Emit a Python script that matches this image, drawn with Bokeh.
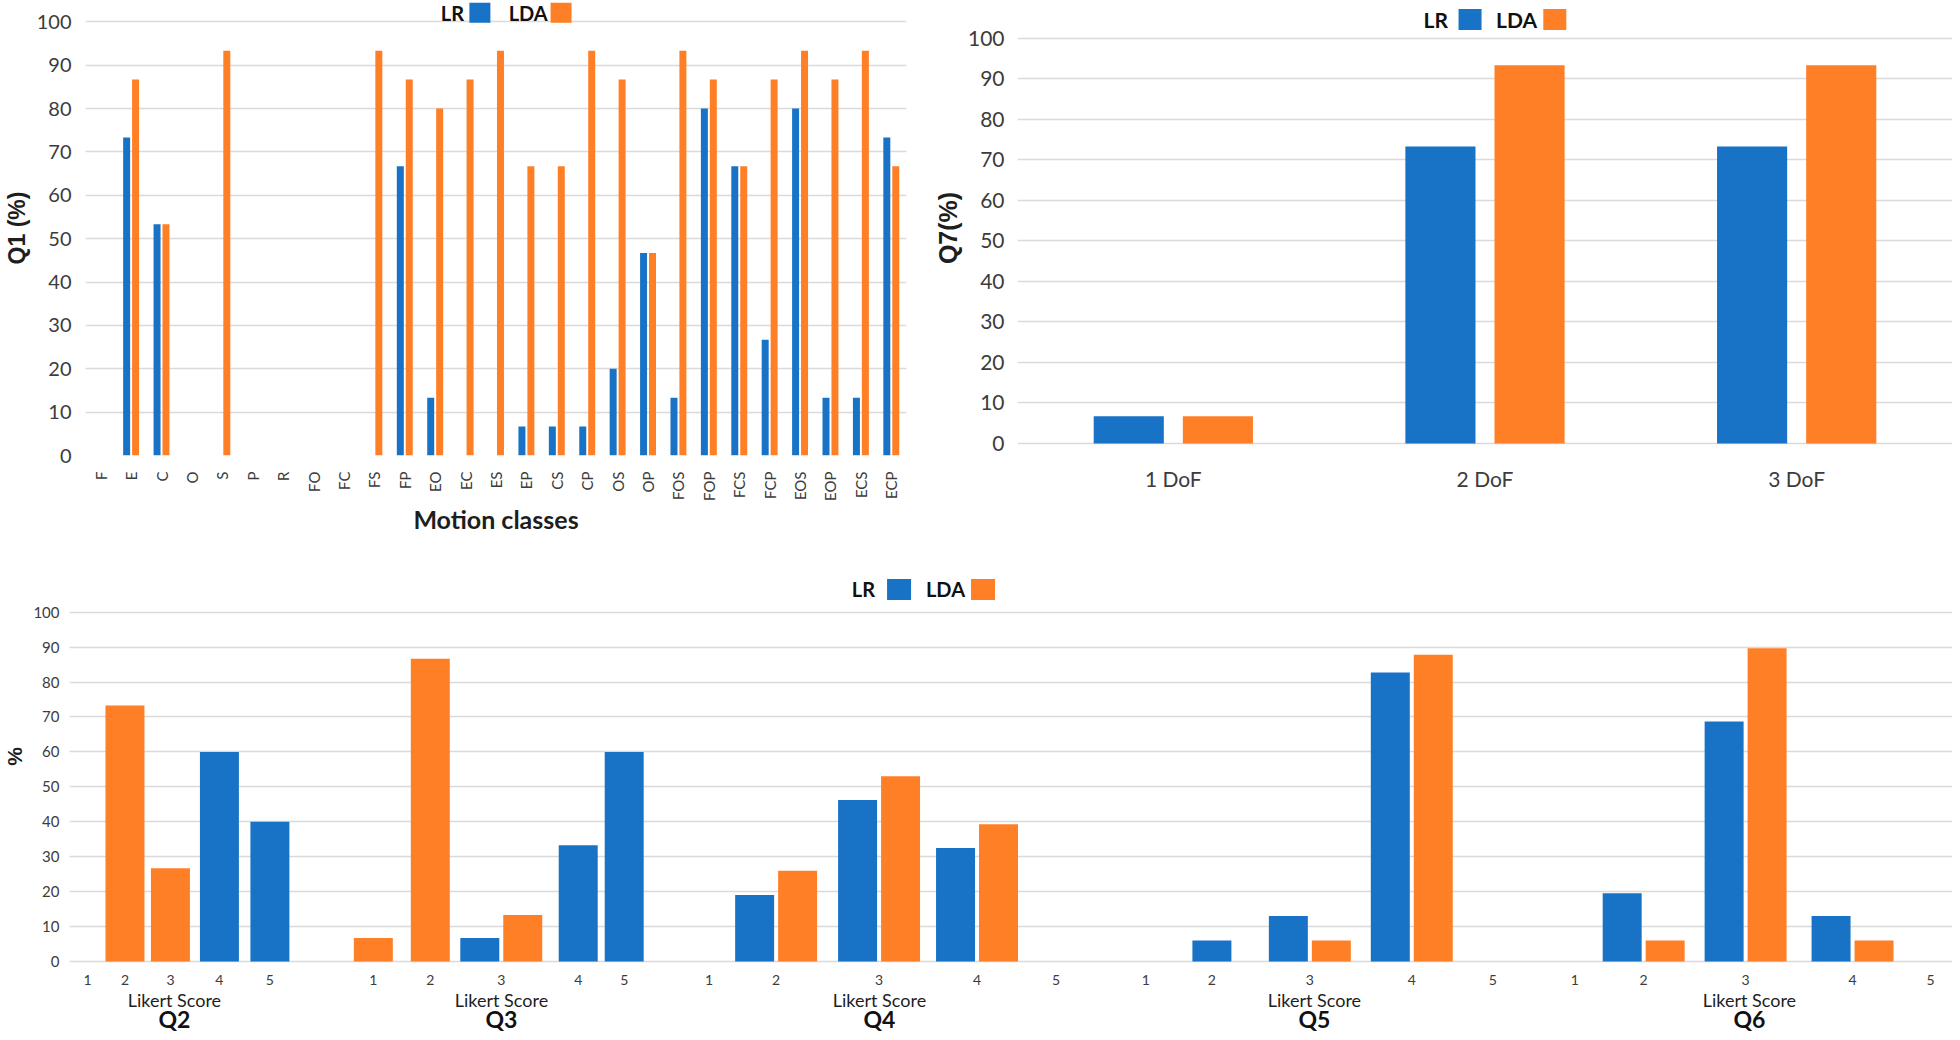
import math
from bokeh.plotting import figure
from bokeh.models import Range1d, FixedTicker
from bokeh.layouts import column, row
from bokeh.embed import file_html
from bokeh.resources import INLINE
from bokeh.core.properties import value

# ---------------- data ----------------
motion_classes = ["F", "E", "C", "O", "S", "P", "R", "FO", "FC", "FS", "FP", "EO", "EC", "ES",
                  "EP", "CS", "CP", "OS", "OP", "FOS", "FOP", "FCS", "FCP", "EOS", "EOP", "ECS", "ECP"]
q1_lr = [0, 73.3, 53.3, 0, 0, 0, 0, 0, 0, 0, 66.7, 13.3, 0, 0, 6.7, 6.7, 6.7, 20, 46.7,
         13.3, 80, 66.7, 26.7, 80, 13.3, 13.3, 73.3]
q1_lda = [0, 86.7, 53.3, 0, 93.3, 0, 0, 0, 0, 93.3, 86.7, 80, 86.7, 93.3, 66.7, 66.7, 93.3,
          86.7, 46.7, 93.3, 86.7, 66.7, 86.7, 93.3, 86.7, 93.3, 66.7]

dof_classes = ["1 DoF", "2 DoF", "3 DoF"]
q7_lr = [6.7, 73.3, 73.3]
q7_lda = [6.7, 93.3, 93.3]

likert_scores = ["1", "2", "3", "4", "5"]
questions = ["Q2", "Q3", "Q4", "Q5", "Q6"]
q2_lr = [0, 0, 0, 60, 40]
q2_lda = [0, 73.3, 26.7, 0, 0]
q3_lr = [0, 0, 6.7, 33.3, 60]
q3_lda = [6.7, 86.7, 13.3, 0, 0]
q4_lr = [0, 19, 46.2, 32.5, 0]
q4_lda = [0, 26, 53, 39.3, 0]
q5_lr = [0, 6, 13, 82.7, 0]
q5_lda = [0, 0, 6, 87.8, 0]
q6_lr = [0, 19.5, 68.7, 13, 0]
q6_lda = [0, 6, 89.7, 6, 0]

series_names = ["LR", "LDA"]
y_ticks = list(range(0, 101, 10))

# ---------------- style / layout ----------------
BLUE = "#1873C6"
ORANGE = "#FF7F27"
GRID = "#DADADA"
TICK = "#3C3C3C"
CAL = "Lato"
ARIAL = "Liberation Sans"

# slot centres (x units = px) of the Likert categories of each question panel
panel_slots = {
    "Q2": [86, 123.5, 169, 218, 268.5],
    "Q3": [372, 429, 500, 577, 623],
    "Q4": [708, 775, 878, 976, 1055],
    "Q5": [1145, 1211, 1309, 1411, 1492],
    "Q6": [1574, 1643, 1745, 1852, 1930],
}


def base_fig(width, height, xr, yr, left, right, top, bottom):
    p = figure(width=width, height=height, x_range=xr, y_range=yr,
               output_backend="svg", toolbar_location=None,
               min_border_left=left, min_border_right=right,
               min_border_top=top, min_border_bottom=bottom)
    p.outline_line_color = None
    p.background_fill_color = "white"
    p.border_fill_color = "white"
    p.xgrid.grid_line_color = None
    p.ygrid.grid_line_color = GRID
    p.ygrid.grid_line_width = 1.6
    for ax in (p.xaxis, p.yaxis):
        ax.axis_line_color = None
        ax.major_tick_line_color = None
        ax.minor_tick_line_color = None
        ax.major_tick_out = 0
        ax.major_tick_in = 0
        ax.minor_tick_out = 0
        ax.minor_tick_in = 0
    p.yaxis.ticker = FixedTicker(ticks=y_ticks)
    p.yaxis.major_label_text_color = TICK
    p.yaxis.major_label_text_font = CAL
    return p


def legend(p, lr_right, lr_sq, lda_right, lda_sq, y, fs, sqw, sqh):
    p.text(x=[lr_right, lda_right], y=[y, y], text=series_names,
           text_font=value(CAL), text_font_style="bold", text_font_size=fs,
           text_align="right", text_baseline="middle", text_color="#111111")
    p.rect(x=[lr_sq, lda_sq], y=[y, y], width=sqw, height=sqh,
           width_units="screen", height_units="screen",
           fill_color=[BLUE, ORANGE], line_color=None)


def y_label(p, text, size, standoff):
    p.yaxis.axis_label = text
    p.yaxis.axis_label_text_font = ARIAL
    p.yaxis.axis_label_text_font_style = "bold"
    p.yaxis.axis_label_text_font_size = size
    p.yaxis.axis_label_text_color = "#1E1E1E"
    p.yaxis.axis_label_standoff = standoff


TOP_H = 542
TOP_BOTTOM = 87

# ---------------- Q1 ----------------
n1 = len(motion_classes)
p1 = base_fig(930, TOP_H, Range1d(-0.5, n1 - 0.5), Range1d(0, 104.91), 82, 24, 0, TOP_BOTTOM)
bw1, off1 = 0.23, 0.147
x_lr = [i - off1 for i, v in enumerate(q1_lr) if v > 0]
t_lr = [v for v in q1_lr if v > 0]
x_lda = [i + off1 for i, v in enumerate(q1_lda) if v > 0]
t_lda = [v for v in q1_lda if v > 0]
p1.vbar(x=x_lr, top=t_lr, width=bw1, fill_color=BLUE, line_color=None)
p1.vbar(x=x_lda, top=t_lda, width=bw1, fill_color=ORANGE, line_color=None)
p1.yaxis.major_label_text_font_size = "20px"
p1.yaxis.major_label_standoff = 14
y_label(p1, "Q1 (%)", "23px", 4)
p1.yaxis.axis_label_text_align = "left"
p1.xaxis.ticker = FixedTicker(ticks=list(range(n1)))
p1.xaxis.major_label_overrides = {i: c for i, c in enumerate(motion_classes)}
p1.xaxis.major_label_orientation = math.pi / 2
p1.xaxis.major_label_text_font = CAL
p1.xaxis.major_label_text_font_size = "15px"
p1.xaxis.major_label_text_color = TICK
p1.xaxis.major_label_standoff = 16
p1.xaxis.axis_label = "Motion classes"
p1.xaxis.axis_label_text_font = CAL
p1.xaxis.axis_label_text_font_style = "bold"
p1.xaxis.axis_label_text_font_size = "25px"
p1.xaxis.axis_label_text_color = "#1E1E1E"
p1.xaxis.axis_label_standoff = 0
legend(p1, 11.95, 12.47, 14.70, 15.14, 102.1, "20px", 21, 20)

# ---------------- Q7 ----------------
n7 = len(dof_classes)
p2 = base_fig(1022, TOP_H, Range1d(-0.5, n7 - 0.5), Range1d(-2.96, 109.3), 86, 0, 0, TOP_BOTTOM)
bw2, off2 = 0.225, 0.143
p2.vbar(x=[i - off2 for i in range(n7)], top=q7_lr, width=bw2, fill_color=BLUE, line_color=None)
p2.vbar(x=[i + off2 for i in range(n7)], top=q7_lda, width=bw2, fill_color=ORANGE, line_color=None)
p2.yaxis.major_label_text_font_size = "21px"
p2.yaxis.major_label_standoff = 13
y_label(p2, "Q7(%)", "25px", 3)
p2.xaxis.ticker = FixedTicker(ticks=list(range(n7)))
p2.xaxis.major_label_overrides = {i: c for i, c in enumerate(dof_classes)}
p2.xaxis.major_label_text_font = CAL
p2.xaxis.major_label_text_font_size = "21px"
p2.xaxis.major_label_text_color = TICK
p2.xaxis.major_label_standoff = 10
legend(p2, 0.881, 0.952, 1.167, 1.224, 104.6, "21px", 23, 21)

# ---------------- Q2..Q6 bars ----------------
xr3 = Range1d(68, 1952)
p3 = base_fig(1952, 428, xr3, Range1d(-2.58, 119.95), 68, 0, 0, 0)
p3.xaxis.visible = False
p3.yaxis.major_label_text_font_size = "15px"
p3.yaxis.major_label_standoff = 10
y_label(p3, "%", "21px", 4)
bw3, off3 = 39, 21.5
panel_data = {"Q2": (q2_lr, q2_lda), "Q3": (q3_lr, q3_lda), "Q4": (q4_lr, q4_lda),
              "Q5": (q5_lr, q5_lda), "Q6": (q6_lr, q6_lda)}
for q in questions:
    lr, lda = panel_data[q]
    slots = panel_slots[q]
    xb, tb, xo, to = [], [], [], []
    for s, a, b in zip(slots, lr, lda):
        both = a > 0 and b > 0
        if a > 0:
            xb.append(s - off3 if both else s)
            tb.append(a)
        if b > 0:
            xo.append(s + off3 if both else s)
            to.append(b)
    p3.vbar(x=xb, top=tb, width=bw3, fill_color=BLUE, line_color=None)
    p3.vbar(x=xo, top=to, width=bw3, fill_color=ORANGE, line_color=None)
legend(p3, 874, 898, 964, 982, 106.5, "20px", 24, 21)

# ---------------- Q2..Q6 category labels ----------------
p4 = figure(width=1952, height=62, x_range=xr3, y_range=Range1d(0, 62),
            output_backend="svg", toolbar_location=None,
            min_border_left=68, min_border_right=0, min_border_top=0, min_border_bottom=0)
p4.outline_line_color = None
p4.axis.visible = False
p4.grid.visible = False
for q in questions:
    slots = panel_slots[q]
    mid = sum(slots) / len(slots)
    p4.text(x=slots, y=[53] * len(slots), text=likert_scores,
            text_font=value(CAL), text_font_size="14px", text_color=TICK,
            text_align="center", text_baseline="middle")
    p4.text(x=[mid], y=[33], text=["Likert Score"], text_font=value(CAL),
            text_font_size="18px", text_color="#1E1E1E",
            text_align="center", text_baseline="middle")
    p4.text(x=[mid], y=[14], text=[q], text_font=value(CAL), text_font_style="bold",
            text_font_size="23px", text_color="#111111",
            text_align="center", text_baseline="middle")

layout = column(row(p1, p2), p3, p4)
open("out.html", "w").write(file_html(layout, INLINE))
